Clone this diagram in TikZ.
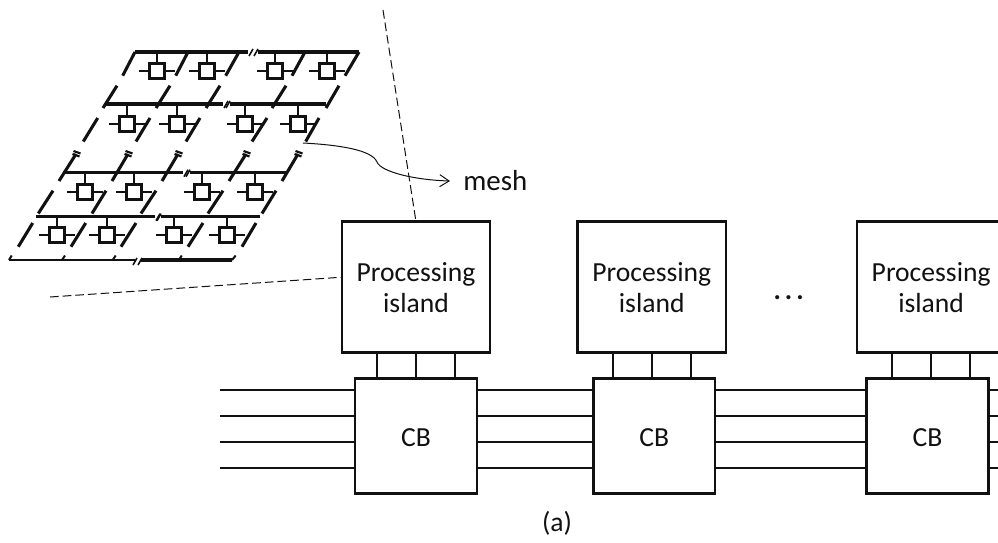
\documentclass[tikz,border=0pt]{standalone}
\usepackage{fontspec}
\setmainfont{Carlito}
\usetikzlibrary{arrows.meta,positioning,calc}
\definecolor{inkgray}{HTML}{111111}
\tikzset{
  meshwire/.style={line width=2.3pt, color=inkgray},
  meshbar/.style={line width=2.6pt, color=inkgray},
  meshstub/.style={line width=1.2pt, color=inkgray},
  cellbox/.style={line width=2pt, color=inkgray, fill=white},
  islandbox/.style={draw=inkgray, line width=1.9pt, outer sep=0pt, minimum width=111.3pt, minimum height=98.25pt, inner sep=0pt, align=center, text depth=-3pt},
  cbbox/.style={draw=inkgray, line width=1.9pt, outer sep=0pt, minimum width=91.3pt, minimum height=86.25pt, inner sep=0pt, execute at begin node={\rule{0pt}{15.2pt}}},
  buswire/.style={line width=1.3pt, color=inkgray},
  leader/.style={line width=0.75pt, color=inkgray, dash pattern=on 6.5pt off 3pt}
}
\begin{document}
\begin{tikzpicture}[x=0.75pt, y=-0.75pt, every node/.style={font=\fontsize{20.7}{23.25}\selectfont, text=inkgray}]
  \useasboundingbox (0,0) rectangle (998,542);
  % mesh bars
  \foreach \ya/\xa/\xb/\xc/\xd in {52/135/248/258/359, 104/105/223/230/326, 172.7/63/183/190/286, 216.7/36/155/161/260}{
    \draw[meshbar] (\xa,\ya) -- (\xb,\ya);
    \draw[meshbar] (\xc,\ya) -- (\xd,\ya);
    \draw[meshstub] ({\xb+1},{\ya+4}) -- ++(4,-7);
    \draw[meshstub] ({\xc-4},{\ya+4}) -- ++(4,-7);
  }
  \draw[line width=1.9pt, color=inkgray] (9,260) -- (135,260);
  \draw[meshbar] (141,260) -- (232,260);
  \draw[meshstub] (133,265) -- ++(4,-7);
  \draw[meshstub] (138,265) -- ++(4,-7);
  % slanted wires
  \foreach \xa/\xb in {135/122.7, 188/175.7, 239/225.7, 305/292, 359/345}
    \draw[meshwire] (\xa,52) -- (\xb,75.7);
  \foreach \xa/\xb in {117/103, 170/156, 220/206, 286/272, 339/326}
    \draw[meshwire] (\xa,85.7) -- (\xb,108);
  \foreach \xa/\xb in {97.7/83.3, 150/136, 200/186, 267/252, 319/305.7}
    \draw[meshwire] (\xa,118) -- (\xb,141.5);
  \foreach \xa/\xb in {76/59, 128/112, 178/162, 246/229, 298/282}{
    \draw[meshwire] (\xa,154) -- (\xb,181);
    \draw[line width=1.6pt, color=inkgray] ({\xa-3.5},{154}) -- ++(7,2.5);
    \draw[line width=1.6pt, color=inkgray] ({\xa-2.5},{151}) -- ++(7,2.5);
  }
  \foreach \xa/\xb in {53/38.3, 106/92, 156/141, 223/208, 276/262}
    \draw[meshwire] (\xa,190.7) -- (\xb,213.5);
  \foreach \xa/\xb in {32.7/18.3, 85.7/71, 136/121, 203/188, 256/242}
    \draw[meshwire] (\xa,223) -- (\xb,246.7);
  \foreach \xa/\xb in {11.7/9, 65/62, 115.7/112.7, 181.7/179, 235.7/232}
    \draw[line width=1.5pt, color=inkgray] (\xa,255.5) -- (\xb,260);
  % mesh cells
  \foreach \yc/\yb/\xlist in {71/52/{157,207,275,327}, 124/104/{127,177,245,298}, 192/172.7/{85,134,202,255}, 235/216.7/{57,107,174,227}}{
    \foreach \xc in \xlist {
      \draw[meshstub] (\xc,\yb) -- (\xc,\yc);
      \draw[meshstub] ({\xc-18},\yc) -- ({\xc+18},\yc);
      \draw[cellbox] ({\xc-7.7},{\yc-7.7}) rectangle +(15.4,15.4);
    }
  }
  % islands and crossbars
  \node[islandbox] (island1) at (416,287.2) {Processing\\island};
  \node[islandbox, right=65.5pt of island1] (island2) {Processing\\island};
  \node[islandbox, right=98.25pt of island2] (island3) {Processing\\island};
  \node[cbbox, below=19.5pt of island1] (cb1) {CB};
  \node[cbbox, below=19.5pt of island2, xshift=1.9pt] (cb2) {CB};
  \node[cbbox, below=19.5pt of island3, xshift=-2.7pt] (cb3) {CB};
  \node[right=47pt of island2.east, yshift=-8pt, anchor=center] (dots) {\textbf{.\hspace{3pt}.\hspace{3pt}.}};
  \foreach \n in {1,2,3}
    \foreach \x in {-29.3,0,29.3}
      \draw[buswire] ([xshift=\x pt]island\n.south) -- ([xshift=\x pt]island\n.south |- cb\n.north);
  \foreach \y in {34.9,15.4,-4.1,-23.6}{
    \draw[buswire] ([yshift=\y pt]cb1.west) -- ++(-135,0);
    \draw[buswire] ([yshift=\y pt]cb1.east) -- ([yshift=\y pt]cb2.west);
    \draw[buswire] ([yshift=\y pt]cb2.east) -- ([yshift=\y pt]cb3.west);
    \draw[buswire] ([yshift=\y pt]cb3.east) -- ++(10,0);
  }
  % leaders
  \coordinate (leadtop) at (383,10);
  \coordinate (leadleft) at (50,297);
  \coordinate (meshfrom) at (303,143);
  \draw[leader] (leadtop) -- (island1.north);
  \draw[leader] (leadleft) -- ([yshift=7.5pt]island1.west);
  \node[anchor=west, inner xsep=9.8pt, font=\fontsize{21.7}{24}\selectfont] (meshlabel) at (450,181) {mesh};
  \draw[line width=0.75pt, color=inkgray, -{Straight Barb[length=7pt,width=9pt]}] (meshfrom) .. controls (340,145) and (372,150) .. (377,162) .. controls (381,172) and (415,180) .. (meshlabel.west);
  \node (caption) at (557,523) {(a)};
\end{tikzpicture}
\end{document}
